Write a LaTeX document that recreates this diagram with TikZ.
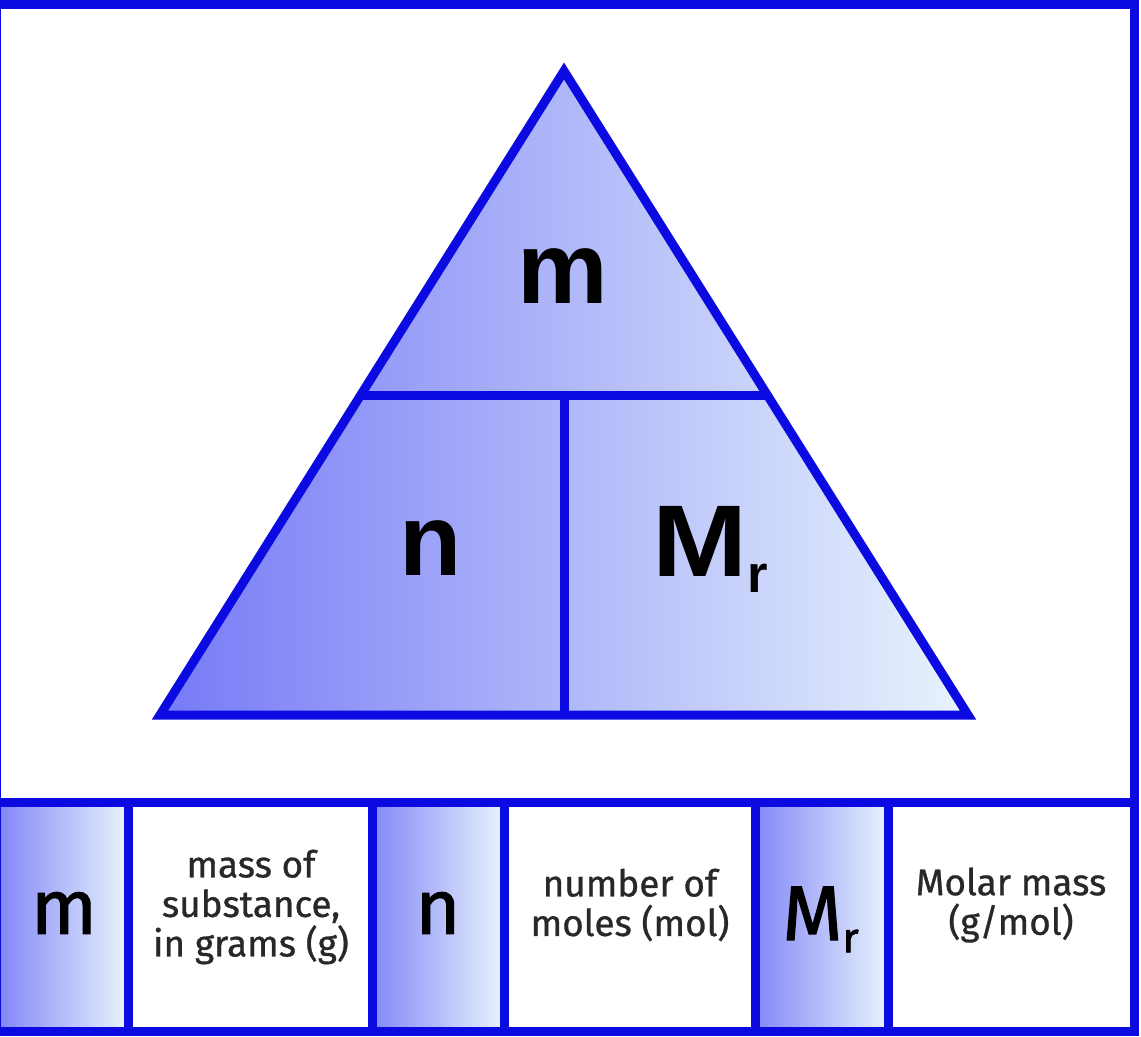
\documentclass[tikz,border=0pt]{standalone}
\usepackage{fontspec}
\setmainfont{Fira Sans}
\newfontfamily\trifont{Liberation Sans}
\newfontfamily\descfont[FakeBold=0.8]{Fira Sans}
\newfontfamily\keyfont[FakeBold=1.4]{Fira Sans}
\usetikzlibrary{calc}
\definecolor{lineblue}{RGB}{10,10,225}
\definecolor{deepfill}{RGB}{118,122,246}
\definecolor{palefill}{RGB}{232,244,252}
\definecolor{desctext}{RGB}{40,40,40}
\tikzset{
  rim/.style={draw=lineblue,line width=9*0.569pt},              % blue outlines
  trifill/.style={left color=deepfill,right color=palefill},
  keyfill/.style={left color=deepfill!90!white,right color=palefill},
  bigsym/.style={inner sep=0pt,font=\trifont\bfseries\fontsize{58}{60}\selectfont},
  keysym/.style={inner sep=0pt,font=\keyfont\fontsize{44}{46}\selectfont},
  desc/.style={align=center,inner sep=0pt,text=desctext,
    font=\descfont\fontsize{21}{22.5}\selectfont},
}
\newcommand{\Mr}[2]{\scalebox{#2}[1]{M}\raisebox{-0.16em}{\fontsize{#1}{#1}\selectfont r}}

\begin{document}
\begin{tikzpicture}[x=0.02cm,y=-0.02cm]
  \useasboundingbox (0,0) rectangle (1141,1036);
  \fill[white] (0,0) rectangle (1141,1036);
  % key cells with gradient
  \foreach \a/\b in {0/128,372/504,755/888}
    \shade[keyfill] (\a,802) rectangle (\b,1031);
  % triangle
  \coordinate (apex) at (564,71);
  \coordinate (bl) at (160,715);
  \coordinate (br) at (968,715);
  \shade[trifill] (apex) -- (bl) -- (br) -- cycle;
  \coordinate (sl) at ($(apex)!0.504!(bl)$);
  \coordinate (sr) at ($(apex)!0.504!(br)$);
  \coordinate (mb) at (564,715);
  \draw[rim] (sl) -- (sr);
  \draw[rim] (mb) -- (mb |- sl);
  \draw[rim] (apex) -- (bl) -- (br) -- cycle;
  \node[bigsym] (tm) at (563,276) {m};
  \node[bigsym] (tn) at (431,548) {n};
  \node[bigsym,anchor=base west] (tmr) at (652,576) {\Mr{30}{1.12}};
  % frame and key row
  \draw[rim] (-3,4) rectangle (1134,1031);
  \draw[rim] (0,802) -- (1134,802);
  \foreach \x in {128,372,504,755,888}
    \draw[rim] (\x,802) -- (\x,1031);
  \node[keysym] (km) at (64,913) {m};
  \node[keysym] (kn) at (438,913) {n};
  \node[keysym,anchor=base west] (kmr) at (782,940) {\Mr{24}{1}};
  \node[desc] (dm) at (251,907) {mass of\\substance,\\in grams (g)};
  \node[desc] (dn) at (630,905) {number of\\moles (mol)};
  \node[desc] (dmr) at (1011,905) {Molar mass\\(g/mol)};
\end{tikzpicture}
\end{document}
